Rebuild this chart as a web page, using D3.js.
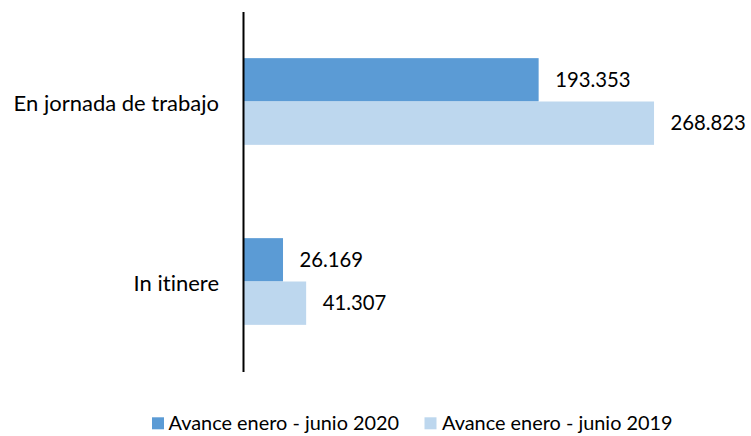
<!DOCTYPE html>
<html><head><meta charset="utf-8">
<script src="https://cdn.jsdelivr.net/npm/d3@7"></script>
<style>body{margin:0;background:#fff}svg{display:block}text{font-variant-ligatures:none}</style>
</head><body>
<svg id="c" width="751" height="436"></svg>
<script>
const categories = ["En jornada de trabajo", "In itinere"];
const seriesNames = ["Avance enero - junio 2020", "Avance enero - junio 2019"];
const values2020 = [193353, 26169];
const values2019 = [268823, 41307];
const valueLabels2020 = ["193.353", "26.169"];
const valueLabels2019 = ["268.823", "41.307"];
const colors = ["#5B9BD5", "#BDD7EE"];

const svg = d3.select("#c");
const font = "Lato, 'Open Sans', sans-serif";
const x = d3.scaleLinear().domain([0, 300000]).range([243, 701.7]);
const y = d3.scaleBand().domain(categories).range([11.5, 371.5]).paddingInner(0).paddingOuter(0);
const groupH = 86.7;
const sub = d3.scaleBand().domain([0, 1]).range([0, groupH]);

const series = [values2020, values2019];
const labels = [valueLabels2020, valueLabels2019];

categories.forEach((c, ci) => {
  const top = y(c) + y.bandwidth() / 2 - groupH / 2;
  series.forEach((vals, si) => {
    svg.append("rect")
      .attr("x", x(0)).attr("y", top + sub(si))
      .attr("width", x(vals[ci]) - x(0)).attr("height", sub.bandwidth())
      .attr("fill", colors[si]);
    svg.append("text")
      .attr("x", x(vals[ci]) + 16.5).attr("y", top + sub(si) + sub.bandwidth() / 2)
      .attr("dy", "0.35em")
      .attr("font-family", font).attr("font-size", 20.3).attr("fill", "#000")
      .text(labels[si][ci]);
  });
});

// category axis
const ax = svg.append("g").attr("transform", `translate(${x(0)},0)`)
  .call(d3.axisLeft(y).tickSize(0).tickPadding(24));
ax.select(".domain").attr("stroke", "#000").attr("stroke-width", 2);
ax.selectAll("text").attr("font-family", font).attr("font-size", 22).attr("fill", "#000").attr("dy", "0.42em");

// legend
const leg = [{x: 152, tx: 168.5}, {x: 424.5, tx: 442}];
seriesNames.forEach((n, i) => {
  svg.append("rect").attr("x", leg[i].x).attr("y", 417.3).attr("width", 12).attr("height", 12).attr("fill", colors[i]);
  svg.append("text").attr("x", leg[i].tx).attr("y", 423.5).attr("dy", "0.35em")
    .attr("font-family", font).attr("font-size", 19.9).attr("fill", "#000").text(n);
});
</script>
</body></html>
